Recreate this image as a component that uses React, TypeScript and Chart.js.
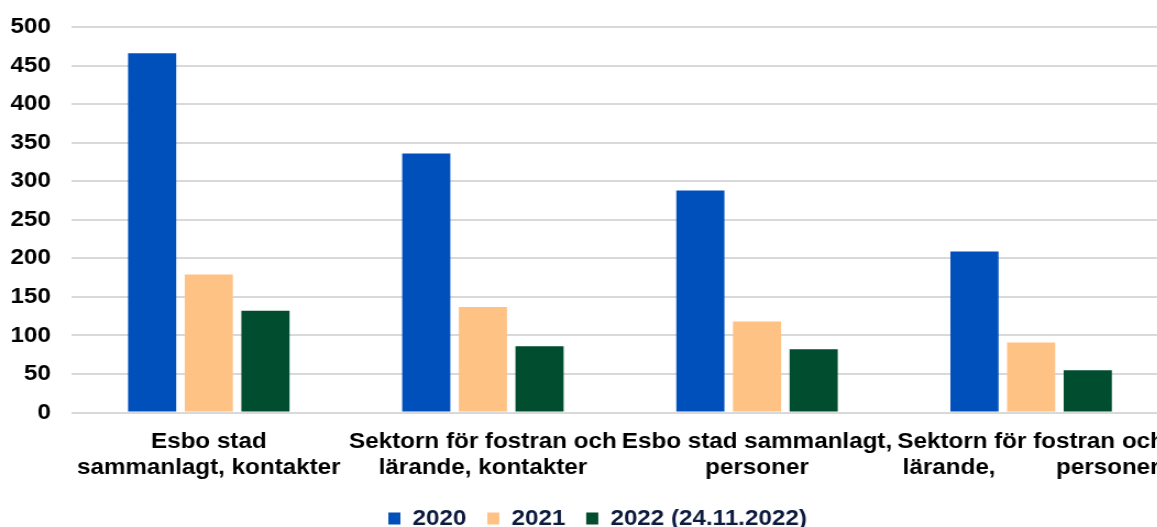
import React, { useEffect, useRef } from "react";
import { Chart, registerables } from "chart.js";

Chart.register(...registerables);

const categories: string[][] = [
  ["Esbo stad", "sammanlagt, kontakter"],
  ["Sektorn för fostran och", "lärande, kontakter"],
  ["Esbo stad sammanlagt,", "personer"],
  ["Sektorn för fostran och", "lärande,         personer"],
];
const seriesNames = ["2020", "2021", "2022 (24.11.2022)"];
const values2020 = [466, 336, 288, 209];
const values2021 = [179, 137, 118, 91];
const values2022 = [132, 86, 82, 55];
const colors = ["#0050BC", "#FFC285", "#004D2F"];
const yTicks = [0, 50, 100, 150, 200, 250, 300, 350, 400, 450, 500];

const SX = 1.1;
const W = 1067;
const H = 527;

const legendShift = {
  id: "legendShift",
  afterLayout(chart: any) {
    if (chart.legend) {
      chart.legend.left += 14.5;
      chart.legend.right += 14.5;
    }
  },
};

export default function App() {
  const ref = useRef<HTMLCanvasElement | null>(null);
  useEffect(() => {
    if (!ref.current) return;
    const font = "'Liberation Sans', Arial, sans-serif";
    const chart = new Chart(ref.current, {
      type: "bar",
      data: {
        labels: categories,
        datasets: [values2020, values2021, values2022].map((d, i) => ({
          label: seriesNames[i],
          data: d,
          backgroundColor: colors[i],
          borderWidth: 0,
          categoryPercentage: 0.62,
          barPercentage: 0.85,
        })),
      },
      plugins: [legendShift],
      options: {
        animation: false,
        responsive: false,
        maintainAspectRatio: false,
        layout: { padding: { top: 0, left: -9.5, right: 0, bottom: -12.5 } },
        plugins: {
          tooltip: { enabled: false },
          legend: {
            position: "bottom",
            labels: {
              boxWidth: 11,
              boxHeight: 12,
              padding: 19,
              color: "#0D1B3E",
              font: { family: font, size: 22, weight: "bold" },
            },
          },
        },
        scales: {
          x: {
            grid: { display: false },
            border: { display: false },
            ticks: {
              autoSkip: false,
              maxRotation: 0,
              minRotation: 0,
              color: "#000",
              padding: 8,
              font: { family: font, size: 22, weight: "bold", lineHeight: 1.18 },
            },
          },
          y: {
            min: 0,
            max: 500,
            afterBuildTicks: (axis: any) => {
              axis.ticks = yTicks.map((v) => ({ value: v }));
            },
            afterFit: (axis: any) => {
              axis.paddingTop = 27;
            },
            grid: { color: "#D9D9D9", lineWidth: 2, drawTicks: false },
            border: { display: false },
            ticks: {
              color: "#000",
              padding: 19,
              font: { family: font, size: 22, weight: "bold" },
            },
          },
        },
      },
    });
    return () => chart.destroy();
  }, []);
  return (
    <div style={{ position: "absolute", left: 0, top: 0, width: 1157, height: H, overflow: "hidden" }}>
      <div style={{ width: W, height: H, transform: `scaleX(${SX})`, transformOrigin: "0 0" }}>
        <canvas ref={ref} width={W} height={H} style={{ display: "block" }} />
      </div>
    </div>
  );
}
